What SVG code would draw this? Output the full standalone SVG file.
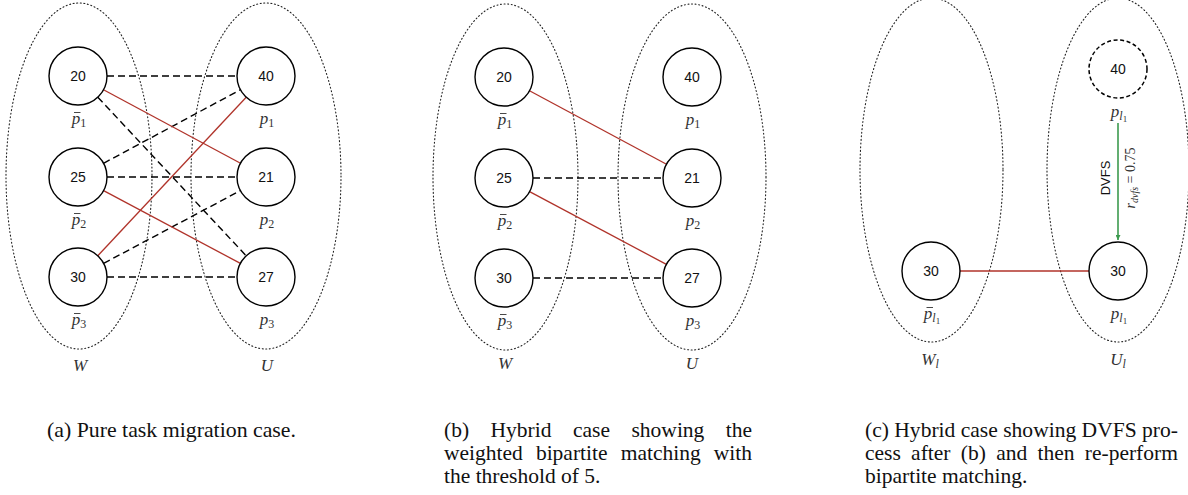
<svg xmlns="http://www.w3.org/2000/svg" width="1188" height="495" viewBox="0 0 1188 495">
<style>
.bg{fill:#fff}
.ell{fill:none;stroke:#222;stroke-width:1.1;stroke-dasharray:1 2.6;stroke-linecap:round}
.node{fill:#fff;stroke:#000;stroke-width:1.4}
.dnode{fill:#fff;stroke:#000;stroke-width:1.5;stroke-dasharray:4 2.6}
.num{font-family:"Liberation Sans",Arial,sans-serif;font-size:14px;fill:#111;text-anchor:middle}
.m{font-family:"Liberation Serif","DejaVu Serif","Times New Roman",serif;font-style:italic;font-size:17px;fill:#333;text-anchor:middle}
.sub{font-size:12px;font-style:normal}
.subi{font-size:12px}
.ss{font-size:9px;font-style:normal}
.bar{stroke:#333;stroke-width:0.9}
.dash{stroke:#000;stroke-width:1.4;stroke-dasharray:7 4;fill:none}
.red{stroke:#b0332a;stroke-width:1.3;fill:none}
.green{stroke:#3c9a4e;stroke-width:1.6;fill:none}
.cap{font-family:"Liberation Serif","Times New Roman",serif;font-size:21.5px;fill:#111}
.lbl{font-family:"Liberation Sans",Arial,sans-serif;font-size:13px;fill:#111;text-anchor:middle}
.rl{font-family:"Liberation Serif","Times New Roman",serif;font-size:14px;fill:#333;text-anchor:middle}
</style>
<defs>
<marker id="ga" viewBox="0 0 10 10" refX="10" refY="5" markerWidth="5" markerHeight="5" orient="auto" markerUnits="userSpaceOnUse">
<path d="M0,0 L10,5 L0,10 Z" fill="#3c9a4e"/>
</marker>
</defs>
<rect class="bg" x="0" y="0" width="1188" height="495"/>

<g id="sets">
<ellipse class="ell" cx="79" cy="176" rx="73" ry="173"/>
<ellipse class="ell" cx="266" cy="176" rx="75" ry="173"/>
<ellipse class="ell" cx="505.5" cy="177" rx="72.5" ry="173"/>
<ellipse class="ell" cx="692" cy="177" rx="74" ry="173"/>
<ellipse class="ell" cx="931.5" cy="170" rx="71.5" ry="172"/>
<ellipse class="ell" cx="1118" cy="170" rx="71" ry="172"/>
<text class="m" x="80" y="371">W</text>
<text class="m" x="267" y="371">U</text>
<text class="m" x="505" y="369">W</text>
<text class="m" x="692" y="369">U</text>
<text class="m" x="930" y="365">W<tspan class="subi" dy="3">l</tspan></text>
<text class="m" x="1118" y="365">U<tspan class="subi" dy="3">l</tspan></text>
</g>

<g id="connectors">
<line class="dash" x1="107" y1="76" x2="237" y2="76"/>
<line class="dash" x1="107" y1="177" x2="237" y2="177"/>
<line class="dash" x1="107" y1="277" x2="237" y2="277"/>
<line class="dash" x1="97.8" y1="97.2" x2="246.2" y2="255.8"/>
<line class="dash" x1="103.5" y1="163.3" x2="240.5" y2="89.7"/>
<line class="dash" x1="103.6" y1="263.4" x2="240.4" y2="190.6"/>
<line class="red" x1="103.5" y1="89.7" x2="240.5" y2="163.3"/>
<line class="red" x1="103.6" y1="190.6" x2="240.4" y2="263.4"/>
<line class="red" x1="97.8" y1="255.8" x2="246.2" y2="97.2"/>
<line class="red" x1="529.5" y1="90.7" x2="666.5" y2="164.3"/>
<line class="red" x1="529.6" y1="191.6" x2="666.4" y2="264.4"/>
<line class="dash" x1="533" y1="178" x2="663" y2="178"/>
<line class="dash" x1="533" y1="278" x2="663" y2="278"/>
<line class="red" x1="960" y1="271" x2="1089" y2="271"/>
<line class="green" x1="1118" y1="123" x2="1118" y2="240" marker-end="url(#ga)"/>
<text class="lbl" transform="translate(1110,178) rotate(-90)">DVFS</text>
<text class="rl" transform="translate(1135,178) rotate(-90)"><tspan font-style="italic">r</tspan><tspan font-style="italic" font-size="10" dy="3">dvfs</tspan><tspan dy="-3"> = 0.75</tspan></text>
</g>

<g id="a-w1"><circle class="node" cx="78" cy="76" r="29"/><text class="num" x="78" y="81">20</text><text class="m" x="79" y="124">p<tspan class="sub" dy="3">1</tspan></text><line class="bar" x1="74" y1="112.5" x2="80.5" y2="112.5"/></g>
<g id="a-w2"><circle class="node" cx="78" cy="177" r="29"/><text class="num" x="78" y="182">25</text><text class="m" x="79" y="225">p<tspan class="sub" dy="3">2</tspan></text><line class="bar" x1="74" y1="213.5" x2="80.5" y2="213.5"/></g>
<g id="a-w3"><circle class="node" cx="78" cy="277" r="29"/><text class="num" x="78" y="282">30</text><text class="m" x="79" y="325">p<tspan class="sub" dy="3">3</tspan></text><line class="bar" x1="74" y1="313.5" x2="80.5" y2="313.5"/></g>
<g id="a-u1"><circle class="node" cx="266" cy="76" r="29"/><text class="num" x="266" y="81">40</text><text class="m" x="267" y="124">p<tspan class="sub" dy="3">1</tspan></text></g>
<g id="a-u2"><circle class="node" cx="266" cy="177" r="29"/><text class="num" x="266" y="182">21</text><text class="m" x="267" y="225">p<tspan class="sub" dy="3">2</tspan></text></g>
<g id="a-u3"><circle class="node" cx="266" cy="277" r="29"/><text class="num" x="266" y="282">27</text><text class="m" x="267" y="325">p<tspan class="sub" dy="3">3</tspan></text></g>

<g id="b-w1"><circle class="node" cx="504" cy="77" r="29"/><text class="num" x="504" y="82">20</text><text class="m" x="505" y="125">p<tspan class="sub" dy="3">1</tspan></text><line class="bar" x1="500" y1="113.5" x2="506.5" y2="113.5"/></g>
<g id="b-w2"><circle class="node" cx="504" cy="178" r="29"/><text class="num" x="504" y="183">25</text><text class="m" x="505" y="226">p<tspan class="sub" dy="3">2</tspan></text><line class="bar" x1="500" y1="214.5" x2="506.5" y2="214.5"/></g>
<g id="b-w3"><circle class="node" cx="504" cy="278" r="29"/><text class="num" x="504" y="283">30</text><text class="m" x="505" y="326">p<tspan class="sub" dy="3">3</tspan></text><line class="bar" x1="500" y1="314.5" x2="506.5" y2="314.5"/></g>
<g id="b-u1"><circle class="node" cx="692" cy="77" r="29"/><text class="num" x="692" y="82">40</text><text class="m" x="693" y="125">p<tspan class="sub" dy="3">1</tspan></text></g>
<g id="b-u2"><circle class="node" cx="692" cy="178" r="29"/><text class="num" x="692" y="183">21</text><text class="m" x="693" y="226">p<tspan class="sub" dy="3">2</tspan></text></g>
<g id="b-u3"><circle class="node" cx="692" cy="278" r="29"/><text class="num" x="692" y="283">27</text><text class="m" x="693" y="326">p<tspan class="sub" dy="3">3</tspan></text></g>

<g id="c-w1"><circle class="node" cx="931" cy="271" r="29"/><text class="num" x="931" y="276">30</text><text class="m" x="932" y="319">p<tspan class="subi" dy="3">l</tspan><tspan class="ss" dy="2">1</tspan></text><line class="bar" x1="926.5" y1="307.5" x2="933" y2="307.5"/></g>
<g id="c-u0"><circle class="dnode" cx="1118" cy="69" r="29"/><text class="num" x="1118" y="74">40</text><text class="m" x="1119" y="117">p<tspan class="subi" dy="3">l</tspan><tspan class="ss" dy="2">1</tspan></text></g>
<g id="c-u1"><circle class="node" cx="1118" cy="271" r="29"/><text class="num" x="1118" y="276">30</text><text class="m" x="1119" y="319">p<tspan class="subi" dy="3">l</tspan><tspan class="ss" dy="2">1</tspan></text></g>

<g id="captions">
<text class="cap" x="47" y="437" textLength="249" lengthAdjust="spacingAndGlyphs">(a) Pure task migration case.</text>
<text class="cap" x="444" y="437">(b)</text>
<text class="cap" x="490.6" y="437">Hybrid</text>
<text class="cap" x="573" y="437">case</text>
<text class="cap" x="631.5" y="437">showing</text>
<text class="cap" x="725.8" y="437">the</text>
<text class="cap" x="444" y="460">weighted</text>
<text class="cap" x="535.9" y="460">bipartite</text>
<text class="cap" x="620.7" y="460">matching</text>
<text class="cap" x="713.8" y="460">with</text>
<text class="cap" x="444" y="483">the threshold of 5.</text>
<text class="cap" x="865" y="437" textLength="313" lengthAdjust="spacingAndGlyphs">(c) Hybrid case showing DVFS pro-</text>
<text class="cap" x="865" y="460">cess</text>
<text class="cap" x="911.1" y="460">after</text>
<text class="cap" x="960.8" y="460">(b)</text>
<text class="cap" x="996.2" y="460">and</text>
<text class="cap" x="1037.5" y="460">then</text>
<text class="cap" x="1084.8" y="460">re-perform</text>
<text class="cap" x="865" y="483">bipartite matching.</text>
</g>
</svg>
